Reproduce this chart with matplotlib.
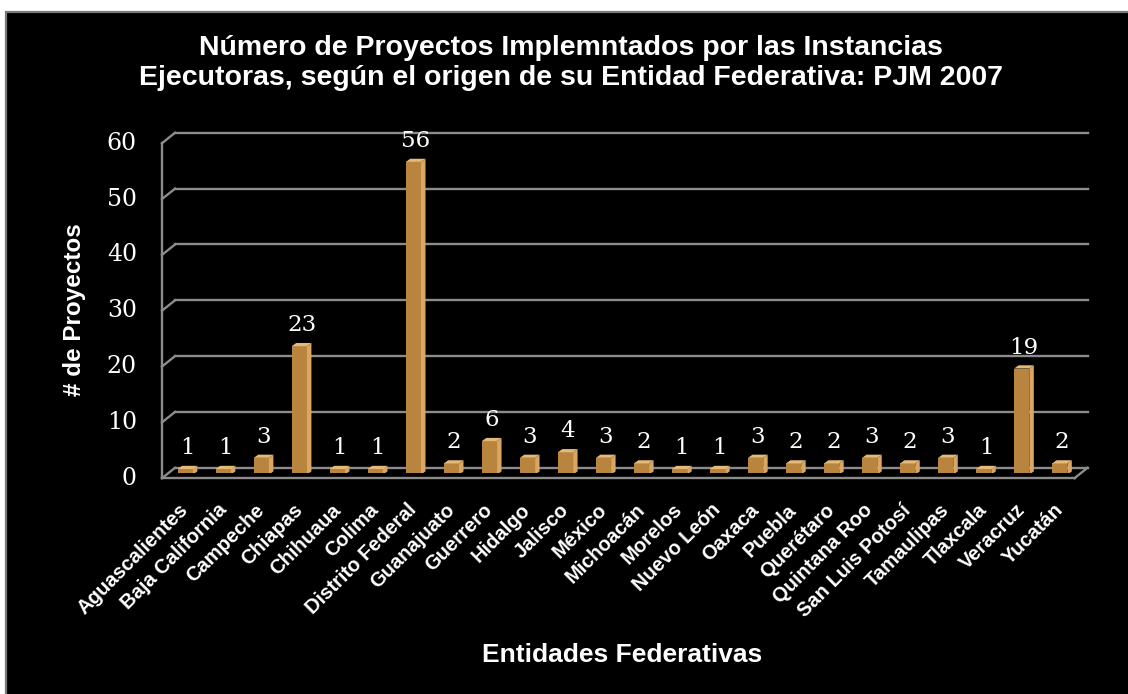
import matplotlib
matplotlib.use("Agg")
import matplotlib.pyplot as plt
from matplotlib.patches import Rectangle, Polygon

categories = ["Aguascalientes", "Baja California", "Campeche", "Chiapas", "Chihuaua",
              "Colima", "Distrito Federal", "Guanajuato", "Guerrero", "Hidalgo",
              "Jalisco", "México", "Michoacán", "Morelos", "Nuevo León", "Oaxaca",
              "Puebla", "Querétaro", "Quintana Roo", "San Luis Potosí", "Tamaulipas",
              "Tlaxcala", "Veracruz", "Yucatán"]
values = [1, 1, 3, 23, 1, 1, 56, 2, 6, 3, 4, 3, 2, 1, 1, 3, 2, 2, 3, 2, 3, 1, 19, 2]
yticks = [0, 10, 20, 30, 40, 50, 60]

title1 = "Número de Proyectos Implemntados por las Instancias"
title2 = "Ejecutoras, según el origen de su Entidad Federativa: PJM 2007"
xlabel = "Entidades Federativas"
ylabel = "# de Proyectos"

W, H = 1128, 694
fig = plt.figure(figsize=(W / 100, H / 100), dpi=100, facecolor="white")

# black panel with grey frame
fig.patches.append(Rectangle((6 / W, -0.01), 1 - 6 / W + 0.01, 1 - 12 / H + 0.01,
                             transform=fig.transFigure,
                             facecolor="black", edgecolor="#7a7a7a", lw=1.6, zorder=-5))

ax_left, ax_right = 168.5, 1081
ax_zero, ax_top = 473, 138
ax = fig.add_axes([ax_left / W, 1 - ax_zero / H, (ax_right - ax_left) / W, (ax_zero - ax_top) / H])
ax.set_zorder(2)
ax.set_facecolor("none")
n = len(categories)
ax.set_xlim(-0.5, n - 0.5)
ax.set_ylim(0, 60)
for s in ax.spines.values():
    s.set_visible(False)
ax.set_xticks([])
ax.set_yticks([])

px_x = (ax_right - ax_left) / n       # pixels per category
px_y = (ax_zero - ax_top) / 60         # pixels per unit
DX = 6.5 / px_x
DY = 5.2 / px_y

grid_c = "#8c8c8c"
glw = 1.7
x0, x1 = -0.5, n - 0.5
# back wall gridlines + left wall diagonals
for g in yticks:
    ax.plot([x0 + DX, x1 + DX], [g + DY, g + DY], color=grid_c, lw=glw, clip_on=False, zorder=1)
    ax.plot([x0 - DX, x0 + DX], [g - DY, g + DY], color=grid_c, lw=glw, clip_on=False, zorder=1)
# left front vertical
ax.plot([x0 - DX, x0 - DX], [-DY, 60 - DY], color=grid_c, lw=glw, clip_on=False, zorder=1)
# floor front edge and right diagonal
ax.plot([x0 - DX, x1 - DX], [-DY, -DY], color=grid_c, lw=glw, clip_on=False, zorder=1)
ax.plot([x1 - DX, x1 + DX], [-DY, DY], color=grid_c, lw=glw, clip_on=False, zorder=1)

serif = "DejaVu Serif"
sans = "Liberation Sans"

for g in yticks:
    ax.annotate(str(g), xy=(x0 - DX, g - DY), xytext=(-18, 0), textcoords="offset points",
                ha="right", va="center", color="white", fontsize=17, family=serif,
                annotation_clip=False)

# 3D-ish bars
w = 0.40
bdx = 4.5 / px_x
bdy = 3.2 / px_y
front_c, side_c, top_c = "#B8843E", "#D9A663", "#E4BA78"
xs = list(range(n))
fx = [x - bdx / 2 for x in xs]
ax.bar(fx, values, width=w, bottom=-bdy / 2, color=front_c, edgecolor="none", zorder=3)
for x, v in zip(fx, values):
    b = -bdy / 2
    r = x + w / 2
    l = x - w / 2
    ax.add_patch(Polygon([(r, b), (r + bdx, b + bdy), (r + bdx, b + v + bdy), (r, b + v)],
                         closed=True, facecolor=side_c, edgecolor="none", zorder=3))
    ax.add_patch(Polygon([(l, b + v), (r, b + v), (r + bdx, b + v + bdy), (l + bdx, b + v + bdy)],
                         closed=True, facecolor=top_c, edgecolor="none", zorder=3))

for x, v in zip(xs, values):
    ax.annotate(str(v), xy=(x, v), xytext=(0, 6), textcoords="offset points",
                ha="center", va="bottom", color="white", fontsize=16.5, family=serif,
                annotation_clip=False)

for x, c in zip(xs, categories):
    ax.annotate(c, xy=(x, 0), xytext=(-1.5, -24.5), textcoords="offset points",
                rotation=45, ha="right", va="center", rotation_mode="anchor",
                color="white", fontsize=14.5, fontweight="bold", family=sans,
                annotation_clip=False)

fig.text(571 / W, 1 - 48 / H, title1, ha="center", va="center", color="white",
         fontsize=20.5, fontweight="bold", family=sans)
fig.text(571 / W, 1 - 78 / H, title2, ha="center", va="center", color="white",
         fontsize=20.5, fontweight="bold", family=sans)
fig.text(75 / W, 1 - 310 / H, ylabel, rotation=90, ha="center", va="center", color="white",
         fontsize=17.5, fontweight="bold", family=sans)
fig.text(622 / W, 1 - 655 / H, xlabel, ha="center", va="center", color="white",
         fontsize=19, fontweight="bold", family=sans)

fig.savefig("out.png", dpi=100, facecolor="white")
